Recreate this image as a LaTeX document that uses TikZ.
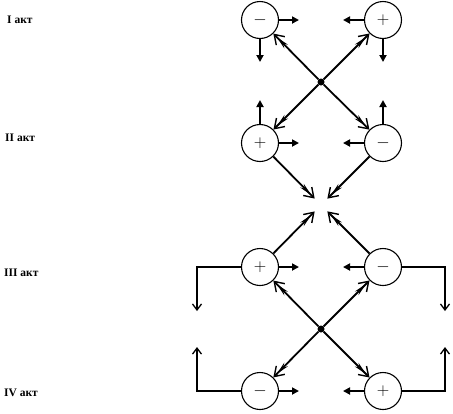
\documentclass[tikz,border=0pt]{standalone}
\usepackage{fontspec}
\setmainfont{Liberation Serif}
\usetikzlibrary{arrows.meta}
\begin{document}
\begin{tikzpicture}[x=1pt, y=-1pt,
    pole/.style={circle, draw, line width=1.1pt, minimum size=37pt, inner sep=0pt, font=\fontsize{17}{17}\selectfont},
    act/.style={anchor=west, inner sep=0pt, font=\bfseries\fontsize{11.5}{13}\selectfont},
    push/.style={line width=2pt, -{Triangle[length=7pt,width=7pt]}},
    wave/.style={line width=1.8pt, -{Stealth[length=13pt,width=5pt,inset=4pt,sep=-6pt]Straight Barb[length=9pt,width=12pt,line width=1.4pt]}},
    loop/.style={line width=1.3pt, -{Straight Barb[length=6pt,width=9pt]}}]
    \useasboundingbox (0,0) rectangle (453,413);

    % acts
    \node[act] (t1) at (7,20) {I акт};
    \node[act] (t2) at (5,138) {II акт};
    \node[act] (t3) at (4,273) {III акт};
    \node[act] (t4) at (4,393) {IV акт};

    % poles
    \node[pole] (c1l) at (260,20) {$-$};
    \node[pole] (c1r) at (383,20) {$+$};
    \node[pole] (c2l) at (260,143) {$+$};
    \node[pole] (c2r) at (383,143) {$-$};
    \node[pole] (c3l) at (260,267) {$+$};
    \node[pole] (c3r) at (383,267) {$-$};
    \node[pole] (c4l) at (260,391) {$-$};
    \node[pole] (c4r) at (383,391) {$+$};

    \node[circle, fill, inner sep=0pt, minimum size=7pt] (o1) at (321,82) {};
    \node[circle, fill, inner sep=0pt, minimum size=7pt] (o2) at (321,329) {};
    \coordinate (mid) at (321,205);

    % I
    \draw[push] (c1l) -- ++(39,0);
    \draw[push] (c1r) -- ++(-40,0);
    \draw[push] (c1l) -- ++(0,42);
    \draw[push] (c1r) -- ++(0,42);
    \draw[wave] (o1) -- (c1l);
    \draw[wave] (o1) -- (c1r);
    \draw[wave] (o1) -- (c2l);
    \draw[wave] (o1) -- (c2r);

    % II
    \draw[push] (c2l) -- ++(39,0);
    \draw[push] (c2r) -- ++(-40,0);
    \draw[push] (c2l) -- ++(0,-43);
    \draw[push] (c2r) -- ++(0,-43);
    \draw[wave, shorten >=9pt] (c2l) -- (mid);
    \draw[wave, shorten >=9pt] (c2r) -- (mid);

    % III
    \draw[wave, shorten >=9pt] (c3l) -- (mid);
    \draw[wave, shorten >=9pt] (c3r) -- (mid);
    \draw[push] (c3l) -- ++(39,0);
    \draw[push] (c3r) -- ++(-40,0);
    \draw[loop] (c3l) -- ++(-63,0) -- ++(0,44);
    \draw[loop] (c3r) -- ++(62,0) -- ++(0,44);
    \draw[wave] (o2) -- (c3l);
    \draw[wave] (o2) -- (c3r);
    \draw[wave] (o2) -- (c4l);
    \draw[wave] (o2) -- (c4r);

    % IV
    \draw[push] (c4l) -- ++(39,0);
    \draw[push] (c4r) -- ++(-40,0);
    \draw[loop] (c4l) -- ++(-63,0) -- ++(0,-44);
    \draw[loop] (c4r) -- ++(62,0) -- ++(0,-44);
\end{tikzpicture}
\end{document}
